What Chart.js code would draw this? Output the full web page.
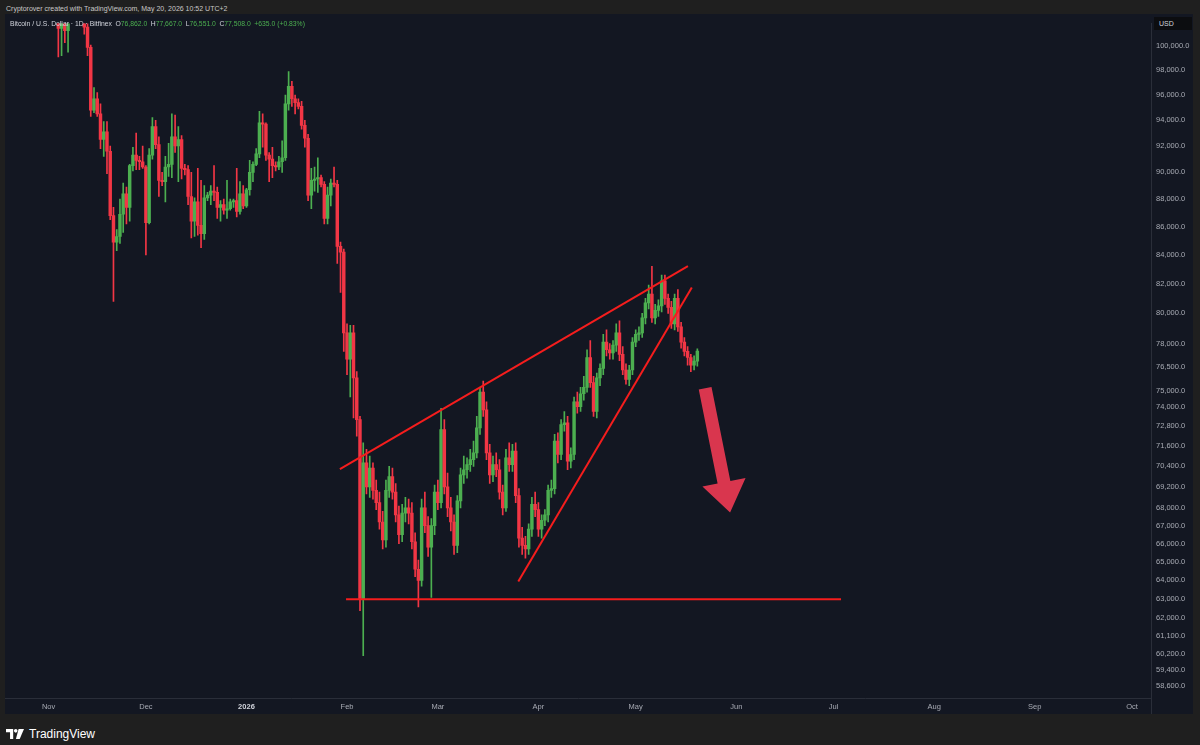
<!DOCTYPE html>
<html>
<head>
<meta charset="utf-8">
<title>BTCUSD 1D - Bitfinex</title>
<script src="https://cdn.jsdelivr.net/npm/chart.js@4.4.1/dist/chart.umd.min.js"></script>
<style>
  body { margin: 0; width: 1200px; height: 745px; background: #1f1f1f; position: relative; overflow: hidden;
         font-family: 'Liberation Sans', Arial, sans-serif; }
  #credit { position: absolute; left: 6px; top: 5px; font-size: 7px; color: #c8c8c8; white-space: nowrap; }
  #panel { position: absolute; left: 5px; top: 14px; width: 1188px; height: 700px; background: #131722; }
  #legend { position: absolute; left: 10px; top: 20px; font-size: 6.8px; color: #d1d4dc; white-space: nowrap; }
  #legend .k { margin-left: 3.5px; }
  #legend .v { color: #4caf50; }
  #usd { position: absolute; left: 1154px; top: 17px; width: 33px; height: 13px; background: #0c0d10;
         color: #d1d4dc; font-size: 7px; line-height: 13px; padding-left: 5px; }
  #sep { position: absolute; left: 1151px; top: 698px; width: 1px; height: 16px; background: #2a2e39; }
  #logo { position: absolute; left: 6px; top: 727px; color: #ffffff; font-size: 12px; font-weight: 500;
          display: flex; align-items: center; }
  #logo svg { margin-right: 5px; }
</style>
</head>
<body>
<div id="credit">Cryptorover created with TradingView.com, May 20, 2026 10:52 UTC+2</div>
<div id="panel"><canvas id="chart" width="1188" height="700"></canvas></div>
<div id="legend">Bitcoin / U.S. Dollar · 1D · Bitfinex<span class="k">O<span class="v">76,862.0</span></span><span class="k">H<span class="v">77,667.0</span></span><span class="k">L<span class="v">76,551.0</span></span><span class="k">C<span class="v">77,508.0</span></span><span class="k v">+635.0 (+0.83%)</span></div>
<div id="usd">USD</div>
<div id="sep"></div>
<div id="logo">
  <svg width="18" height="10" viewBox="0 0 20 11"><path d="M0 0H8V11H4.5V3.5H0Z" fill="#fff"/><circle cx="10.8" cy="2" r="2" fill="#fff"/><path d="M14 0H20L15.2 11H11Z" fill="#fff"/></svg>
  TradingView
</div>
<script>
// BTC/USD daily candles, Bitfinex, 1 Nov 2025 .. 20 May 2026
// prices in thousands of USD, index 0 = 1 Nov 2025
const openK = [
  109.6, 110.1, 110.6, 106.5, 101.5, 103.9, 101.3, 103.3, 102.3, 104.7, 105.9, 102.9, 101.6, 99.9, 94.8,
  95.7, 94.5, 92.5, 93.1, 91.6, 86.8, 84.9, 85.3, 86.9, 88.4, 87.4, 90.5, 91.3, 90.9, 90.8,
  90.4, 86.3, 91.3, 93.5, 92.1, 89.4, 89.3, 90.4, 90.6, 92.7, 92.0, 92.5, 90.3, 90.2, 88.2, 86.4,
  87.8, 86.1, 85.5, 88.1, 88.3, 88.6, 88.5, 87.4, 87.6, 87.2, 87.3, 87.8, 87.9, 87.1, 88.4,
  87.5, 88.7, 90.0, 90.6, 91.4, 93.8, 93.7, 91.3, 91.0, 90.5, 90.4, 90.8, 91.1, 95.3, 96.7, 95.7,
  95.4, 95.1, 93.6, 92.6, 88.3, 89.4, 89.5, 89.6, 89.1, 86.6, 88.3, 89.2, 89.1, 84.6, 84.2,
  78.7, 77.0, 78.7, 75.8, 73.2, 63.0, 70.6, 69.2, 70.3, 69.0, 68.3, 67.2, 66.2, 69.0,
  69.8, 68.9, 67.6, 66.5, 67.7, 68.0, 67.7, 66.1, 64.6, 64.0, 68.0, 67.0, 65.8, 67.0,
  68.9, 68.3, 72.6, 69.2, 68.0, 67.2, 65.9, 68.4, 69.9, 70.2, 70.5, 70.8, 71.2, 72.7, 74.9, 73.8,
  71.2, 69.9, 70.5, 70.2, 68.9, 68.0, 70.9, 70.5, 71.3, 68.7, 66.3, 65.9, 65.7, 66.8, 68.2,
  67.9, 66.8, 67.3, 67.6, 69.0, 69.1, 71.9, 71.1, 72.9, 73.0, 70.7, 71.1, 74.3, 74.0, 74.8,
  75.2, 77.1, 75.5, 73.7, 75.8, 76.4, 78.1, 77.6, 77.4, 77.9, 78.7, 77.3, 76.3, 75.7, 76.3,
  78.1, 78.6, 78.7, 79.7, 80.7, 81.3, 79.7, 80.2, 80.5, 82.2, 81.0, 80.4, 79.3, 81.0, 79.1,
  78.1, 77.5, 77.1, 76.6, 76.862
];
const highK = [
  110.6, 111.2, 110.8, 107.3, 104.5, 104.1, 104.0, 103.5, 105.0, 106.6, 107.4, 105.3, 104.0, 100.1, 96.6,
  96.2, 95.3, 93.9, 93.9, 92.0, 87.4, 85.8, 88.0, 89.2, 88.9, 90.6, 91.9, 93.0, 91.2, 92.0,
  90.5, 91.8, 94.2, 94.0, 92.7, 90.0, 91.2, 92.2, 94.5, 94.4, 93.5, 92.8, 90.6, 90.5, 90.0, 88.1,
  90.3, 89.4, 89.0, 88.5, 89.0, 90.5, 88.9, 87.9, 88.0, 89.4, 88.0, 88.0, 90.3, 89.3, 89.0,
  88.8, 90.9, 90.8, 91.8, 94.7, 94.5, 93.8, 91.5, 91.9, 90.8, 91.2, 92.4, 96.0, 97.9, 97.1, 96.0,
  95.7, 95.5, 94.0, 92.9, 90.3, 90.4, 91.1, 89.8, 89.3, 88.9, 89.5, 90.4, 89.4, 84.9, 84.4,
  79.3, 79.2, 79.2, 76.2, 73.4, 71.8, 71.4, 71.0, 70.6, 69.6, 68.9, 67.8, 69.6, 70.4,
  70.3, 69.4, 68.1, 68.2, 68.6, 68.5, 68.3, 66.6, 65.1, 68.5, 68.9, 67.5, 67.4, 69.3,
  69.6, 73.9, 73.2, 70.0, 68.6, 67.6, 68.7, 70.3, 71.0, 70.9, 71.4, 71.9, 73.4, 75.2, 75.6, 74.3,
  71.7, 71.0, 71.2, 70.8, 69.3, 71.4, 71.8, 71.7, 71.8, 69.1, 66.9, 66.4, 67.1, 68.6, 68.9,
  68.3, 67.6, 67.9, 69.3, 69.6, 72.3, 72.4, 73.2, 73.7, 73.4, 71.5, 74.6, 74.9, 75.2, 75.9,
  77.6, 78.2, 75.9, 76.1, 76.7, 78.6, 78.9, 78.0, 78.2, 79.3, 79.5, 77.8, 76.7, 76.6, 78.4,
  78.9, 79.1, 80.0, 81.0, 81.9, 83.2, 80.6, 80.9, 82.6, 82.6, 81.3, 80.8, 81.3, 81.6, 79.4,
  78.4, 77.8, 77.3, 77.2, 77.667
];
const lowK = [
  109.4, 109.8, 104.9, 99.1, 99.2, 100.3, 99.5, 102.0, 102.1, 104.3, 102.5, 101.0, 99.2, 94.3, 94.6,
  94.3, 91.8, 91.2, 89.9, 86.5, 80.8, 84.3, 84.8, 85.6, 86.2, 86.4, 90.1, 90.2, 90.2, 90.3,
  84.0, 86.2, 91.0, 91.8, 88.2, 89.0, 87.8, 89.7, 89.6, 91.5, 89.3, 89.5, 89.8, 87.6, 85.2, 85.3,
  85.4, 84.5, 85.1, 87.9, 87.6, 87.9, 86.6, 86.4, 86.9, 86.6, 87.2, 87.4, 86.7, 86.9, 87.3,
  87.4, 88.3, 89.3, 90.5, 91.1, 91.9, 90.9, 89.3, 89.6, 90.1, 90.2, 90.0, 90.9, 94.8, 95.1, 94.5,
  94.9, 93.3, 91.9, 87.9, 87.3, 88.6, 88.5, 88.9, 86.2, 86.2, 87.5, 88.9, 83.4, 81.4, 77.5,
  76.0, 74.6, 73.3, 72.2, 62.4, 60.1, 68.8, 68.6, 68.5, 67.9, 66.8, 65.7, 65.8, 68.6,
  68.5, 67.2, 66.0, 66.1, 67.2, 67.1, 65.7, 64.2, 62.6, 63.7, 66.6, 65.3, 63.1, 66.5,
  67.9, 68.0, 68.8, 67.5, 66.7, 65.4, 65.5, 68.0, 69.4, 69.7, 70.1, 70.4, 70.9, 72.3, 73.4, 70.8,
  69.4, 69.5, 69.8, 68.5, 67.6, 67.8, 70.1, 70.1, 68.3, 65.8, 65.4, 65.2, 65.4, 66.4, 67.5,
  66.4, 66.3, 67.0, 67.2, 68.6, 68.8, 70.6, 70.8, 72.5, 70.2, 70.3, 70.8, 73.6, 73.7, 74.4,
  74.9, 75.2, 73.4, 73.3, 75.3, 76.0, 77.2, 77.0, 77.0, 77.5, 76.9, 76.0, 75.4, 75.3, 76.0,
  77.8, 78.2, 78.4, 79.3, 80.3, 79.4, 79.3, 79.8, 80.1, 80.6, 80.0, 79.0, 78.9, 78.8, 77.7,
  77.2, 76.6, 76.2, 76.3, 76.551
];
const closeK = [
  110.1, 110.6, 106.5, 101.5, 103.9, 101.3, 103.3, 102.3, 104.7, 105.9, 102.9, 101.6, 99.9, 94.8, 95.7,
  94.5, 92.5, 93.1, 91.6, 86.8, 84.9, 85.3, 86.9, 88.4, 87.4, 90.5, 91.3, 90.9, 90.8, 90.4,
  86.3, 91.3, 93.5, 92.1, 89.4, 89.3, 90.4, 90.6, 92.7, 92.0, 92.5, 90.3, 90.2, 88.2, 86.4, 87.8,
  86.1, 85.5, 88.1, 88.3, 88.6, 88.5, 87.4, 87.6, 87.2, 87.3, 87.8, 87.9, 87.1, 88.4, 87.5,
  88.7, 90.0, 90.6, 91.4, 93.8, 93.7, 91.3, 91.0, 90.5, 90.4, 90.8, 91.1, 95.3, 96.7, 95.7, 95.4,
  95.1, 93.6, 92.6, 88.3, 89.4, 89.5, 89.6, 89.1, 86.6, 88.3, 89.2, 89.1, 84.6, 84.2, 78.7,
  77.0, 78.7, 75.8, 73.2, 63.0, 70.6, 69.2, 70.3, 69.0, 68.3, 67.2, 66.2, 69.0, 69.8,
  68.9, 67.6, 66.5, 67.7, 68.0, 67.7, 66.1, 64.6, 64.0, 68.0, 67.0, 65.8, 67.0, 68.9,
  68.3, 72.6, 69.2, 68.0, 67.2, 65.9, 68.4, 69.9, 70.2, 70.5, 70.8, 71.2, 72.7, 74.9, 73.8, 71.2,
  69.9, 70.5, 70.2, 68.9, 68.0, 70.9, 70.5, 71.3, 68.7, 66.3, 65.9, 65.7, 66.8, 68.2, 67.9,
  66.8, 67.3, 67.6, 69.0, 69.1, 71.9, 71.1, 72.9, 73.0, 70.7, 71.1, 74.3, 74.0, 74.8, 75.2,
  77.1, 75.5, 73.7, 75.8, 76.4, 78.1, 77.6, 77.4, 77.9, 78.7, 77.3, 76.3, 75.7, 76.3, 78.1,
  78.6, 78.7, 79.7, 80.7, 81.3, 79.7, 80.2, 80.5, 82.2, 81.0, 80.4, 79.3, 81.0, 79.1, 78.1,
  77.5, 77.1, 76.6, 76.862, 77.508
];

// x axis: days counted from 1 Nov 2025
const monthDays = [0, 30, 61, 92, 120, 151, 181, 212, 242, 273, 304, 334];
const monthLabels = ['Nov', 'Dec', '2026', 'Feb', 'Mar', 'Apr', 'May', 'Jun', 'Jul', 'Aug', 'Sep', 'Oct'];
const priceTicks = [100000, 98000, 96000, 94000, 92000, 90000, 88000, 86000, 84000, 82000, 80000, 78000,
  76500, 75000, 74000, 72800, 71600, 70400, 69200, 68000, 67000, 66000, 65000, 64000, 63000, 62000,
  61100, 60200, 59400, 58600];

// drawings (day, price)
const wedgeTopDays = [89.8, 197.1], wedgeTopPrices = [70230, 83220];
const wedgeLowDays = [144.8, 198.3], wedgeLowPrices = [63940, 81740];
const supportDays = [91.7, 244.3], supportPrices = [63000, 63000];
const arrowDays = [202.4, 210.1], arrowPrices = [75140, 67730];

const GREEN = '#4caf50';
const RED = '#f23645';
const LINE_RED = '#f51d1d';
const AXIS_TEXT = '#a8abb4';
const FONT = "'Liberation Sans', Arial, sans-serif";

const candleColors = openK.map((o, i) => closeK[i] >= o ? GREEN : RED);

// big down arrow, drawn in data space through the chart scales
const arrowPlugin = {
    id: 'arrow',
    afterDatasetsDraw(chart) {
        const { ctx, scales: { x, y } } = chart;
        const x0 = x.getPixelForValue(arrowDays[0]), y0 = y.getPixelForValue(arrowPrices[0]);
        const x1 = x.getPixelForValue(arrowDays[1]), y1 = y.getPixelForValue(arrowPrices[1]);
        const len = Math.hypot(x1 - x0, y1 - y0);
        const ux = (x1 - x0) / len, uy = (y1 - y0) / len;
        const px = -uy, py = ux;
        const shaft = 6.5, head = 22, headLen = 31;
        const bx = x1 - ux * headLen, by = y1 - uy * headLen;
        ctx.save();
        ctx.beginPath();
        ctx.moveTo(x0 + px * shaft, y0 + py * shaft);
        ctx.lineTo(bx + px * shaft, by + py * shaft);
        ctx.lineTo(bx + px * head, by + py * head);
        ctx.lineTo(x1, y1);
        ctx.lineTo(bx - px * head, by - py * head);
        ctx.lineTo(bx - px * shaft, by - py * shaft);
        ctx.lineTo(x0 - px * shaft, y0 - py * shaft);
        ctx.closePath();
        ctx.fillStyle = 'rgba(234, 58, 82, 0.92)';
        ctx.fill();
        ctx.restore();
    }
};

function lineDataset(days, prices) {
    return {
        type: 'line',
        data: days.map((d, i) => ({ x: d, y: prices[i] })),
        borderColor: LINE_RED,
        borderWidth: 2,
        pointRadius: 0,
        order: 0
    };
}

const ctx = document.getElementById('chart').getContext('2d');
new Chart(ctx, {
    type: 'bar',
    data: {
        datasets: [
            lineDataset(wedgeTopDays, wedgeTopPrices),
            lineDataset(wedgeLowDays, wedgeLowPrices),
            lineDataset(supportDays, supportPrices),
            {
                // candle bodies
                data: openK.map((o, i) => ({ x: i, y: [o * 1000, closeK[i] * 1000] })),
                backgroundColor: candleColors,
                barThickness: 2.8,
                minBarLength: 1,
                grouped: false,
                order: 1
            },
            {
                // wicks
                data: lowK.map((l, i) => ({ x: i, y: [l * 1000, highK[i] * 1000] })),
                backgroundColor: candleColors,
                barThickness: 1,
                grouped: false,
                order: 2
            }
        ]
    },
    options: {
        responsive: false,
        animation: false,
        devicePixelRatio: 1,
        events: [],
        layout: { padding: 0 },
        plugins: {
            legend: { display: false },
            tooltip: { enabled: false }
        },
        scales: {
            x: {
                type: 'linear',
                min: -13.44,
                max: 339.86,
                offset: false,
                grid: { display: false, drawTicks: false },
                border: { display: true, color: '#2a2e39', width: 1 },
                afterFit(scale) { scale.height = 16; },
                afterBuildTicks(scale) {
                    scale.ticks = monthDays.map(v => ({ value: v }));
                },
                ticks: {
                    autoSkip: false,
                    maxRotation: 0,
                    padding: 4,
                    callback: (v, i) => monthLabels[i],
                    color: c => monthLabels[c.index] === '2026' ? '#d1d4dc' : AXIS_TEXT,
                    font: c => ({ family: FONT, size: 7.5, weight: monthLabels[c.index] === '2026' ? 'bold' : 'normal' })
                }
            },
            y: {
                type: 'logarithmic',
                position: 'right',
                min: 58013,
                max: 101912,
                grid: { display: false, drawTicks: false },
                border: { display: true, color: '#2a2e39', width: 1 },
                afterFit(scale) { scale.width = 42; },
                afterBuildTicks(scale) {
                    scale.ticks = priceTicks.map(v => ({ value: v }));
                },
                ticks: {
                    autoSkip: false,
                    padding: 5,
                    color: AXIS_TEXT,
                    font: { family: FONT, size: 7.5 },
                    callback: v => v.toLocaleString('en-US', { minimumFractionDigits: 1, maximumFractionDigits: 1 })
                }
            }
        }
    },
    plugins: [arrowPlugin]
});
</script>
</body>
</html>
